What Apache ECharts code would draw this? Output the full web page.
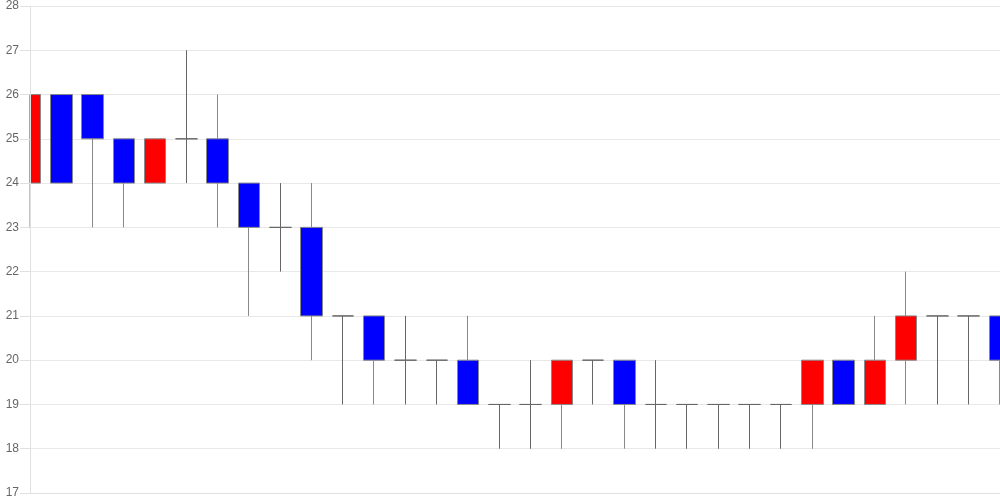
<!DOCTYPE html>
<html>
<head>
<meta charset="utf-8">
<script src="https://cdn.jsdelivr.net/npm/echarts@6/dist/echarts.min.js"></script>
<style>
  html, body { margin: 0; padding: 0; background: #fff; }
  #main { width: 1000px; height: 500px; }
</style>
</head>
<body>
<div id="main"></div>
<script>
// 32 candles, one per category
const categories = Array.from({ length: 32 }, (_, i) => String(i + 1));
const opens  = [24, 26, 26, 25, 24, 25, 25, 24, 23, 23, 21, 21, 20, 20, 20, 19, 19, 19, 20, 20, 19, 19, 19, 19, 19, 19, 20, 19, 20, 21, 21, 21];
const closes = [26, 24, 25, 24, 25, 25, 24, 23, 23, 21, 21, 20, 20, 20, 19, 19, 19, 20, 20, 19, 19, 19, 19, 19, 19, 20, 19, 20, 21, 21, 21, 20];
const lows   = [23, 24, 23, 23, 24, 24, 23, 21, 22, 20, 19, 19, 19, 19, 19, 18, 18, 18, 19, 18, 18, 18, 18, 18, 18, 18, 19, 19, 19, 19, 19, 19];
const highs  = [26, 26, 26, 25, 25, 27, 26, 24, 24, 24, 21, 21, 21, 20, 21, 19, 20, 20, 20, 20, 20, 19, 19, 19, 19, 20, 20, 21, 22, 21, 21, 21];
const yTicks = [17, 28, 1]; // min, max, step

const candles = categories.map((_, i) => [opens[i], closes[i], lows[i], highs[i]]);

const mychart = echarts.init(document.getElementById("main"));
mychart.setOption({
  animation: false,
  grid: { left: 30, right: 0, top: 5, bottom: 7 },
  // white mask so the first candle looks cut off at the y axis
  graphic: [
    {
      type: "rect",
      left: 0,
      top: 0,
      shape: { width: 29.5, height: 500 },
      style: { fill: "#fff" },
      z: 3,
      silent: true,
    },
  ],
  xAxis: {
    type: "category",
    data: categories,
    boundaryGap: false,
    axisLine: { lineStyle: { color: "#e0e0e0" } },
    axisTick: { show: false },
    axisLabel: { show: false },
    splitLine: { show: false },
  },
  yAxis: [
    {
      // grid lines, drawn under the candles
      type: "value",
      min: yTicks[0],
      max: yTicks[1],
      interval: yTicks[2],
      axisLine: { show: false },
      axisTick: { show: false },
      axisLabel: { show: false },
      splitLine: { lineStyle: { color: "#e8e8e8" } },
    },
    {
      // axis line, ticks and labels, drawn above the mask
      type: "value",
      position: "left",
      min: yTicks[0],
      max: yTicks[1],
      interval: yTicks[2],
      z: 5,
      axisLine: { show: true, lineStyle: { color: "#e0e0e0" } },
      axisTick: { show: true, length: 10, lineStyle: { color: "#e0e0e0" } },
      axisLabel: { color: "#666", fontSize: 12, margin: 11 },
      splitLine: { show: false },
    },
  ],
  series: [
    {
      type: "candlestick",
      data: candles,
      barWidth: 22,
      itemStyle: {
        color: "#ff0000",
        color0: "#0000ff",
        borderColor: "#888",
        borderColor0: "#888",
        borderColorDoji: "#666",
        borderWidth: 1,
      },
    },
  ],
});
</script>
</body>
</html>
